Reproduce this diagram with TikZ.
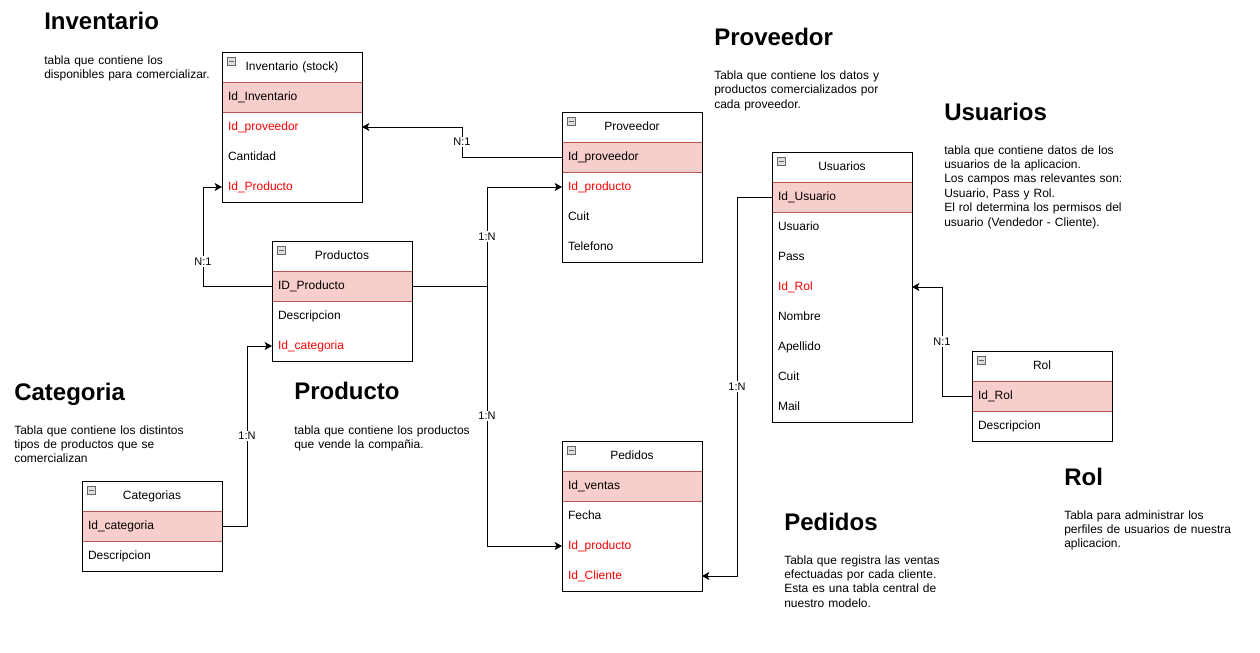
\documentclass[tikz,border=0pt]{standalone}
\usepackage{fontspec}
\setmainfont{Liberation Sans}
\usetikzlibrary{positioning}
\usetikzlibrary{arrows.meta}
\definecolor{keyfill}{HTML}{F8CECC}
\definecolor{keyline}{HTML}{B85450}
\definecolor{fkred}{HTML}{FF0000}
\tikzset{node distance=0pt,
field/.style={ % one row of a table
rectangle, inner xsep=4.5pt, inner ysep=0pt, outer sep=0pt,
minimum width=105pt, minimum height=22.5pt,
text width=96pt, align=left,
text height=8pt, text depth=3.4pt,
font=\fontsize{9}{10.8}\selectfont},
tablehead/.style={field, align=center}, % table name
pkey/.style={field, fill=keyfill, draw=keyline, line width=0.75pt}, % primary key
fkey/.style={field, text=fkred}, % foreign key
frame/.style={draw, line width=0.75pt},
collapse/.style={ % small minus box in the corner
draw=gray!80!black, fill=gray!25, minimum size=6pt, inner sep=0pt,
anchor=north west,
path picture={\draw[line width=0.6pt] ([xshift=1.2pt]path picture bounding box.west) -- ([xshift=-1.2pt]path picture bounding box.east);}},
rel/.style={ % relations between tables
draw, line width=0.75pt,
-{Stealth[length=5.5pt,width=6pt,inset=1.4pt]}},
card/.style={fill=white, inner sep=1pt, font=\fontsize{8.25}{9}\selectfont},
title/.style={anchor=base west, inner sep=0pt, font=\bfseries\fontsize{18}{21}\selectfont},
note/.style={anchor=base west, inner sep=0pt, text width=200pt, align=left,
font=\fontsize{9}{10.8}\selectfont}}
\begin{document}
\begin{tikzpicture}[x=0.75pt,y=-0.75pt]
	\useasboundingbox (0,0) rectangle (1260,653);
	% Inventario
	\node[tablehead, anchor=north west] (inv) at (222,52) {Inventario (stock)};
	\node[pkey, below=of inv] (inv1) {Id\_Inventario};
	\node[fkey, below=of inv1] (inv2) {Id\_proveedor};
	\node[field, below=of inv2] (inv3) {Cantidad};
	\node[fkey, below=of inv3] (inv4) {Id\_Producto};
	\draw[frame] (inv.north west) rectangle (inv4.south east);
	\node[collapse] at ([shift={(5,5)}]inv.north west) {};
	% Proveedor
	\node[tablehead, anchor=north west] (prov) at (562,112) {Proveedor};
	\node[pkey, below=of prov] (prov1) {Id\_proveedor};
	\node[fkey, below=of prov1] (prov2) {Id\_producto};
	\node[field, below=of prov2] (prov3) {Cuit};
	\node[field, below=of prov3] (prov4) {Telefono};
	\draw[frame] (prov.north west) rectangle (prov4.south east);
	\node[collapse] at ([shift={(5,5)}]prov.north west) {};
	% Usuarios
	\node[tablehead, anchor=north west] (usr) at (772,152) {Usuarios};
	\node[pkey, below=of usr] (usr1) {Id\_Usuario};
	\node[field, below=of usr1] (usr2) {Usuario};
	\node[field, below=of usr2] (usr3) {Pass};
	\node[fkey, below=of usr3] (usr4) {Id\_Rol};
	\node[field, below=of usr4] (usr5) {Nombre};
	\node[field, below=of usr5] (usr6) {Apellido};
	\node[field, below=of usr6] (usr7) {Cuit};
	\node[field, below=of usr7] (usr8) {Mail};
	\draw[frame] (usr.north west) rectangle (usr8.south east);
	\node[collapse] at ([shift={(5,5)}]usr.north west) {};
	% Productos
	\node[tablehead, anchor=north west] (prod) at (272,241) {Productos};
	\node[pkey, below=of prod] (prod1) {ID\_Producto};
	\node[field, below=of prod1] (prod2) {Descripcion};
	\node[fkey, below=of prod2] (prod3) {Id\_categoria};
	\draw[frame] (prod.north west) rectangle (prod3.south east);
	\node[collapse] at ([shift={(5,5)}]prod.north west) {};
	% Rol
	\node[tablehead, anchor=north west] (rol) at (972,351) {Rol};
	\node[pkey, below=of rol] (rol1) {Id\_Rol};
	\node[field, below=of rol1] (rol2) {Descripcion};
	\draw[frame] (rol.north west) rectangle (rol2.south east);
	\node[collapse] at ([shift={(5,5)}]rol.north west) {};
	% Pedidos
	\node[tablehead, anchor=north west] (ped) at (562,441) {Pedidos};
	\node[pkey, below=of ped] (ped1) {Id\_ventas};
	\node[field, below=of ped1] (ped2) {Fecha};
	\node[fkey, below=of ped2] (ped3) {Id\_producto};
	\node[fkey, below=of ped3] (ped4) {Id\_Cliente};
	\draw[frame] (ped.north west) rectangle (ped4.south east);
	\node[collapse] at ([shift={(5,5)}]ped.north west) {};
	% Categorias
	\node[tablehead, anchor=north west] (cat) at (82,481) {Categorias};
	\node[pkey, below=of cat] (cat1) {Id\_categoria};
	\node[field, below=of cat1] (cat2) {Descripcion};
	\draw[frame] (cat.north west) rectangle (cat2.south east);
	\node[collapse] at ([shift={(5,5)}]cat.north west) {};
	% relations
	\draw[rel] (prov1.west) -- ++(-100,0) |- node[card, pos=0.25] {N:1} (inv2.east);
	\draw[rel] (prod1.west) -- ++(-69,0) |- node[card, pos=0.124] {N:1} (inv4.west);
	\draw[rel] (prod1.east) -- ++(75,0) |- node[card, pos=0.25] {1:N} (prov2.west);
	\draw[rel] (prod1.east) -- ++(75,0) |- node[card, pos=0.25] {1:N} (ped3.west);
	\draw[rel] (cat1.east) -- ++(25,0) |- node[card, pos=0.25] {1:N} (prod3.west);
	\draw[rel] (usr1.west) -- ++(-35,0) |- node[card, pos=0.25] {1:N} (ped4.east);
	\draw[rel] (rol1.west) -- ++(-30,0) |- node[card, pos=0.25] {N:1} (usr4.east);
	% descriptions
	\node[title] (t-inv) at (44,29.5) {Inventario};
	\node[note] (n-inv) at (44,64) {tabla que contiene los\\disponibles para comercializar.};
	\node[title] (t-prov) at (714,45.5) {Proveedor};
	\node[note] (n-prov) at (714,79.5) {Tabla que contiene los datos y\\productos comercializados por\\cada proveedor.};
	\node[title] (t-usr) at (944,120) {Usuarios};
	\node[note] (n-usr) at (944,154) {tabla que contiene datos de los\\usuarios de la aplicacion.\\Los campos mas relevantes son:\\Usuario, Pass y Rol.\\El rol determina los permisos del\\usuario (Vendedor - Cliente).};
	\node[title] (t-cat) at (14,400) {Categoria};
	\node[note] (n-cat) at (14,434) {Tabla que contiene los distintos\\tipos de productos que se\\comercializan};
	\node[title] (t-prod) at (294,399.5) {Producto};
	\node[note] (n-prod) at (294,434) {tabla que contiene los productos\\que vende la compañia.};
	\node[title] (t-ped) at (784,530) {Pedidos};
	\node[note] (n-ped) at (784,564) {Tabla que registra las ventas\\efectuadas por cada cliente.\\Esta es una tabla central de\\nuestro modelo.};
	\node[title] (t-rol) at (1064,485) {Rol};
	\node[note] (n-rol) at (1064,519) {Tabla para administrar los\\perfiles de usuarios de nuestra\\aplicacion.};
\end{tikzpicture}
\end{document}
